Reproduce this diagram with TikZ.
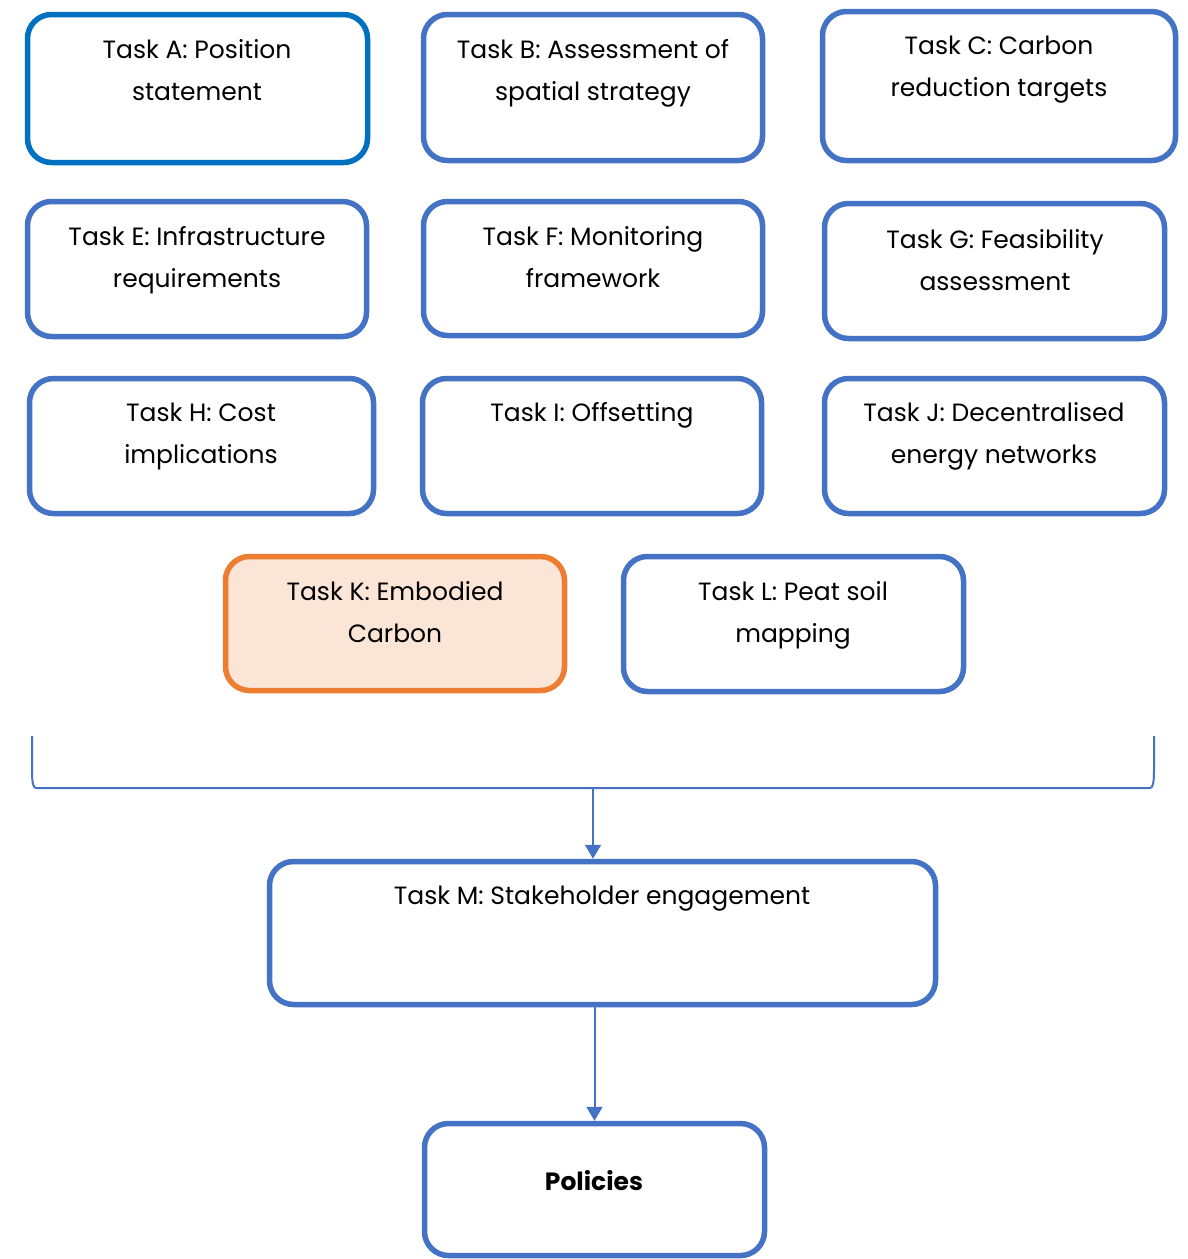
\documentclass[tikz,border=0pt]{standalone}
\usepackage{fontspec}
\setmainfont{Poppins}
\usetikzlibrary{arrows.meta}
\definecolor{boxblue}{HTML}{4472C4}
\definecolor{darkblue}{HTML}{0070C0}
\definecolor{korange}{HTML}{ED7D31}
\definecolor{kfill}{HTML}{FBE5D6}
\begin{document}
\begin{tikzpicture}[x=1pt,y=-1pt,
  box/.style={draw=boxblue, line width=5.5pt, rounded corners=24pt, fill=white, inner sep=0pt},
  lbl/.style={align=center, anchor=north, font=\fontsize{25}{42}\selectfont, inner sep=0pt, text=black},
  conn/.style={draw=boxblue, line width=2pt},
  arr/.style={conn, -{Triangle[length=14pt,width=16pt]}}]
\useasboundingbox[fill=white] (0,0) rectangle (1188,1259);
% boxes
\node[box, draw=darkblue, minimum width=340pt, minimum height=148pt] (A) at (197.5,88.5) {};
\node[box, minimum width=339pt, minimum height=146pt] (B) at (593,87.5) {};
\node[box, minimum width=353pt, minimum height=149pt] (C) at (999,86) {};
\node[box, minimum width=339pt, minimum height=135pt] (E) at (197,269) {};
\node[box, minimum width=339pt, minimum height=134pt] (F) at (593,268.5) {};
\node[box, minimum width=340pt, minimum height=135pt] (G) at (994.5,271) {};
\node[box, minimum width=344pt, minimum height=135pt] (H) at (201.5,446) {};
\node[box, minimum width=339pt, minimum height=135pt] (I) at (592,446) {};
\node[box, minimum width=340pt, minimum height=135pt] (J) at (994.5,446) {};
\node[box, draw=korange, fill=kfill, minimum width=339pt, minimum height=134pt] (K) at (395,623.5) {};
\node[box, minimum width=340pt, minimum height=135pt] (L) at (793.5,624) {};
\node[box, minimum width=666pt, minimum height=143pt] (M) at (602.5,933) {};
\node[box, minimum width=340pt, minimum height=132pt] (P) at (594.5,1189.5) {};
% labels
\node[lbl] (tA) at (197,39) {Task A: Position\\statement};
\node[lbl] (tB) at (593,39) {Task B: Assessment of\\spatial strategy};
\node[lbl] (tC) at (999,36) {Task C: Carbon\\reduction targets};
\node[lbl] (tE) at (197,226) {Task E: Infrastructure\\requirements};
\node[lbl] (tF) at (593,226) {Task F: Monitoring\\framework};
\node[lbl] (tG) at (995,229) {Task G: Feasibility\\assessment};
\node[lbl] (tH) at (201,403) {Task H: Cost\\implications};
\node[lbl] (tI) at (592,402) {Task I: Offsetting};
\node[lbl] (tJ) at (994,402) {Task J: Decentralised\\energy networks};
\node[lbl] (tK) at (395,581) {Task K: Embodied\\Carbon};
\node[lbl] (tL) at (793,581) {Task L: Peat soil\\mapping};
\node[lbl] (tM) at (602,886) {Task M: Stakeholder engagement};
\node[lbl, font=\fontsize{25}{42}\selectfont\bfseries] (tP) at (594,1170) {Policies};
% bracket
\coordinate (bl) at (32,736);
\coordinate (br) at (1154,736);
\coordinate (bm) at (593,788);
\draw[conn] (bl) -- (32,770) .. controls (32,782) and (33,788) .. (36,788) -- (1150,788) .. controls (1153,788) and (1154,782) .. (1154,770) -- (br);
\draw[arr] (bm) -- (bm |- M.north);
\draw[arr] (P.north |- M.south) -- (P.north);
\end{tikzpicture}
\end{document}
